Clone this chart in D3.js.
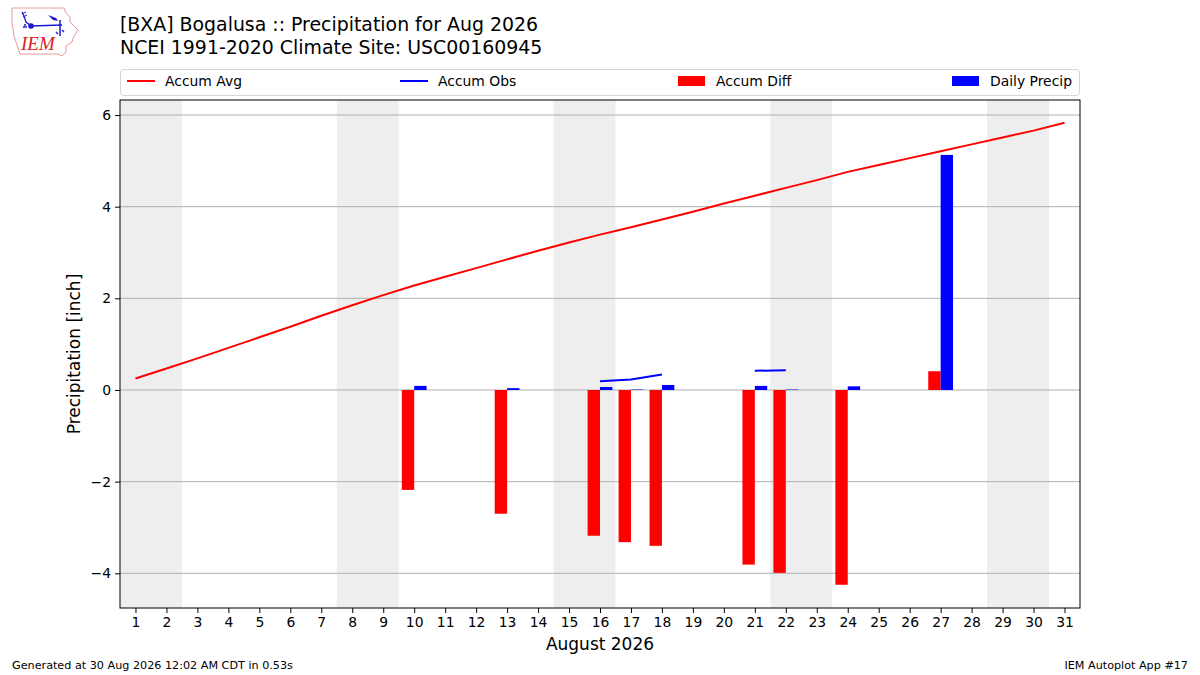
<!DOCTYPE html>
<html>
<head>
<meta charset="utf-8">
<script src="https://cdn.jsdelivr.net/npm/d3@7"></script>
<style>
  body { margin: 0; background: #fff; }
  svg { display: block; font-family: "DejaVu Sans", sans-serif; }
</style>
</head>
<body>
<svg width="1200" height="675"></svg>
<script>
(function() {
	// values
	var days = d3.range(1, 32);
	var accumAvg = [0.25, 0.47, 0.69, 0.92, 1.15, 1.38, 1.62, 1.85, 2.07, 2.28,
	                2.47, 2.66, 2.85, 3.04, 3.22, 3.39, 3.55, 3.72, 3.89, 4.07,
	                4.24, 4.41, 4.58, 4.76, 4.91, 5.06, 5.21, 5.36, 5.51, 5.66, 5.83];
	var precipDays = [10, 13, 16, 17, 18, 21, 22, 24, 27];
	var dailyPrecip = [0.09, 0.04, 0.065, 0.01, 0.11, 0.09, 0.01, 0.08, 5.13];
	var accumDiff = [-2.18, -2.70, -3.18, -3.32, -3.40, -3.81, -3.99, -4.25, 0.41];
	var accumObs = [0.09, 0.13, 0.19, 0.23, 0.34, 0.42, 0.43, 0.51, 5.62];
	var yTicks = [-4, -2, 0, 2, 4, 6];

	var svg = d3.select("svg");
	var x = d3.scaleLinear().domain([0.5, 31.5]).range([120, 1080]);
	var y = d3.scaleLinear().domain([-4.757, 6.328]).range([608, 100]);
	var barW = x(0.4) - x(0);

	// weekend shading (Aug 1 2026 is a Saturday)
	var weekends = days.filter(function(d) {
		return new Date(2026, 7, d).getDay() === 6;
	});
	svg.append("g").selectAll("rect").data(weekends).enter().append("rect")
	  .attr("x", function(d) { return x(d - 0.5); })
	  .attr("y", y.range()[1])
	  .attr("width", x(2) - x(0))
	  .attr("height", y.range()[0] - y.range()[1])
	  .style("fill", "#eeeeee");

	// horizontal grid
	svg.append("g").selectAll("line").data(yTicks).enter().append("line")
	  .attr("x1", 120).attr("x2", 1080)
	  .attr("y1", function(d) { return y(d); })
	  .attr("y2", function(d) { return y(d); })
	  .style("stroke", "#b0b0b0").style("stroke-width", "1px");

	// accum diff bars (left of day)
	svg.append("g").selectAll("rect").data(precipDays).enter().append("rect")
	  .attr("x", function(d) { return x(d) - barW; })
	  .attr("y", function(d, i) { return y(Math.max(0, accumDiff[i])); })
	  .attr("width", barW)
	  .attr("height", function(d, i) { return Math.abs(y(accumDiff[i]) - y(0)); })
	  .style("fill", "#ff0000");

	// daily precip bars (right of day)
	svg.append("g").selectAll("rect").data(precipDays).enter().append("rect")
	  .attr("x", function(d) { return x(d); })
	  .attr("y", function(d, i) { return y(dailyPrecip[i]); })
	  .attr("width", barW)
	  .attr("height", function(d, i) { return y(0) - y(dailyPrecip[i]); })
	  .style("fill", "#0000ff");

	// accum avg line
	var line = d3.line()
	  .x(function(d) { return x(d[0]); })
	  .y(function(d) { return y(d[1]); });
	svg.append("path")
	  .datum(days.map(function(d, i) { return [d, accumAvg[i]]; }))
	  .attr("d", line)
	  .style("fill", "none").style("stroke", "#ff0000").style("stroke-width", "2px");

	// accum obs line, only drawn between consecutive precip days
	var obsSeries = days.map(function(d) {
		var i = precipDays.indexOf(d);
		return [d, i < 0 ? null : accumObs[i]];
	});
	svg.append("path")
	  .datum(obsSeries)
	  .attr("d", line.defined(function(d) { return d[1] !== null; }))
	  .style("fill", "none").style("stroke", "#0000ff").style("stroke-width", "2px");

	// frame
	svg.append("rect")
	  .attr("x", 120).attr("y", 100).attr("width", 960).attr("height", 508)
	  .style("fill", "none").style("stroke", "black").style("stroke-width", "1px");

	// axes
	var xAxis = d3.axisBottom(x).tickValues(days).tickSize(5).tickPadding(4)
	  .tickFormat(d3.format("d"));
	var gx = svg.append("g").attr("transform", "translate(0,608)").call(xAxis);
	gx.select(".domain").remove();
	gx.selectAll("text").style("font-size", "13.9px").style("font-family", "DejaVu Sans").style("fill", "#000");

	var yAxis = d3.axisLeft(y).tickValues(yTicks).tickSize(5).tickPadding(4)
	  .tickFormat(function(d) { return d < 0 ? "\u2212" + Math.abs(d) : d; });
	var gy = svg.append("g").attr("transform", "translate(120,0)").call(yAxis);
	gy.select(".domain").remove();
	gy.selectAll("text").style("font-size", "13.9px").style("font-family", "DejaVu Sans").style("fill", "#000");

	svg.append("text").attr("x", 600).attr("y", 650)
	  .attr("text-anchor", "middle").style("font-size", "17px").text("August 2026");
	svg.append("text")
	  .attr("transform", "translate(80,354) rotate(-90)")
	  .attr("text-anchor", "middle").style("font-size", "17px").text("Precipitation [inch]");

	// titles
	svg.append("text").attr("x", 120).attr("y", 31).style("font-size", "18.9px")
	  .text("[BXA] Bogalusa :: Precipitation for Aug 2026");
	svg.append("text").attr("x", 120).attr("y", 54).style("font-size", "18.9px")
	  .text("NCEI 1991-2020 Climate Site: USC00160945");

	// legend
	svg.append("rect")
	  .attr("x", 120.5).attr("y", 69.5).attr("width", 959).attr("height", 26)
	  .attr("rx", 3).style("fill", "white").style("stroke", "#d5d5d5");
	var legend = [
		{label: "Accum Avg", color: "#ff0000", type: "line", x: 127},
		{label: "Accum Obs", color: "#0000ff", type: "line", x: 400},
		{label: "Accum Diff", color: "#ff0000", type: "patch", x: 678},
		{label: "Daily Precip", color: "#0000ff", type: "patch", x: 952}
	];
	legend.forEach(function(l) {
		if (l.type === "line") {
			svg.append("line").attr("x1", l.x).attr("x2", l.x + 28)
			  .attr("y1", 81).attr("y2", 81)
			  .style("stroke", l.color).style("stroke-width", "2px");
		} else {
			svg.append("rect").attr("x", l.x).attr("y", 76).attr("width", 27).attr("height", 10)
			  .style("fill", l.color);
		}
		svg.append("text").attr("x", l.x + 38).attr("y", 86)
		  .style("font-size", "13.9px").text(l.label);
	});

	// footer
	svg.append("text").attr("x", 12).attr("y", 669).style("font-size", "11.2px")
	  .text("Generated at 30 Aug 2026 12:02 AM CDT in 0.53s");
	svg.append("text").attr("x", 1188).attr("y", 669).attr("text-anchor", "end")
	  .style("font-size", "11.2px").text("IEM Autoplot App #17");

	// rough IEM logo
	var logo = svg.append("g").attr("transform", "translate(0,0)");
	logo.append("path")
	  .attr("d", "M12,8 L64,8 L66,13 L70,17 L70,22 L74,26 L78,30 L74,36 L72,42 L66,46 L66,52 L62,56 L58,54 L20,54 L18,48 L14,36 L12,22 Z")
	  .style("fill", "white").style("stroke", "#ec9a9a").style("stroke-width", "1px");
	var blue = "#1a1ad0";
	logo.append("line").attr("x1", 31).attr("x2", 62).attr("y1", 26).attr("y2", 25)
	  .style("stroke", blue).style("stroke-width", "1.5px");
	logo.append("line").attr("x1", 60).attr("x2", 60).attr("y1", 20).attr("y2", 36)
	  .style("stroke", blue).style("stroke-width", "1.5px");
	logo.append("path").attr("d", "M22,12 L24,16 L26,22 L30,25").style("fill", "none")
	  .style("stroke", blue).style("stroke-width", "1.3px");
	logo.append("path").attr("d", "M22,14 L26,12 M23,17 L27,15").style("fill", "none")
	  .style("stroke", blue).style("stroke-width", "1px");
	logo.append("circle").attr("cx", 31).attr("cy", 26).attr("r", 2.8).style("fill", blue);
	logo.append("path").attr("d", "M48,15 L56,18 L58,21 L53,20 Z").style("fill", blue);
	logo.append("path").attr("d", "M56,32 L58,34 M62,30 L64,32").style("fill", "none")
	  .style("stroke", blue).style("stroke-width", "1.3px");
	logo.append("circle").attr("cx", 24).attr("cy", 27).attr("r", 1).style("fill", blue);
	logo.append("circle").attr("cx", 26).attr("cy", 27).attr("r", 1).style("fill", blue);
	logo.append("circle").attr("cx", 25).attr("cy", 25).attr("r", 1).style("fill", blue);
	logo.append("text").attr("x", 21).attr("y", 50)
	  .style("font-family", "Liberation Serif").style("font-style", "italic")
	  .style("font-size", "19px").style("fill", "#dd2020").text("IEM");
})();
</script>
</body>
</html>
